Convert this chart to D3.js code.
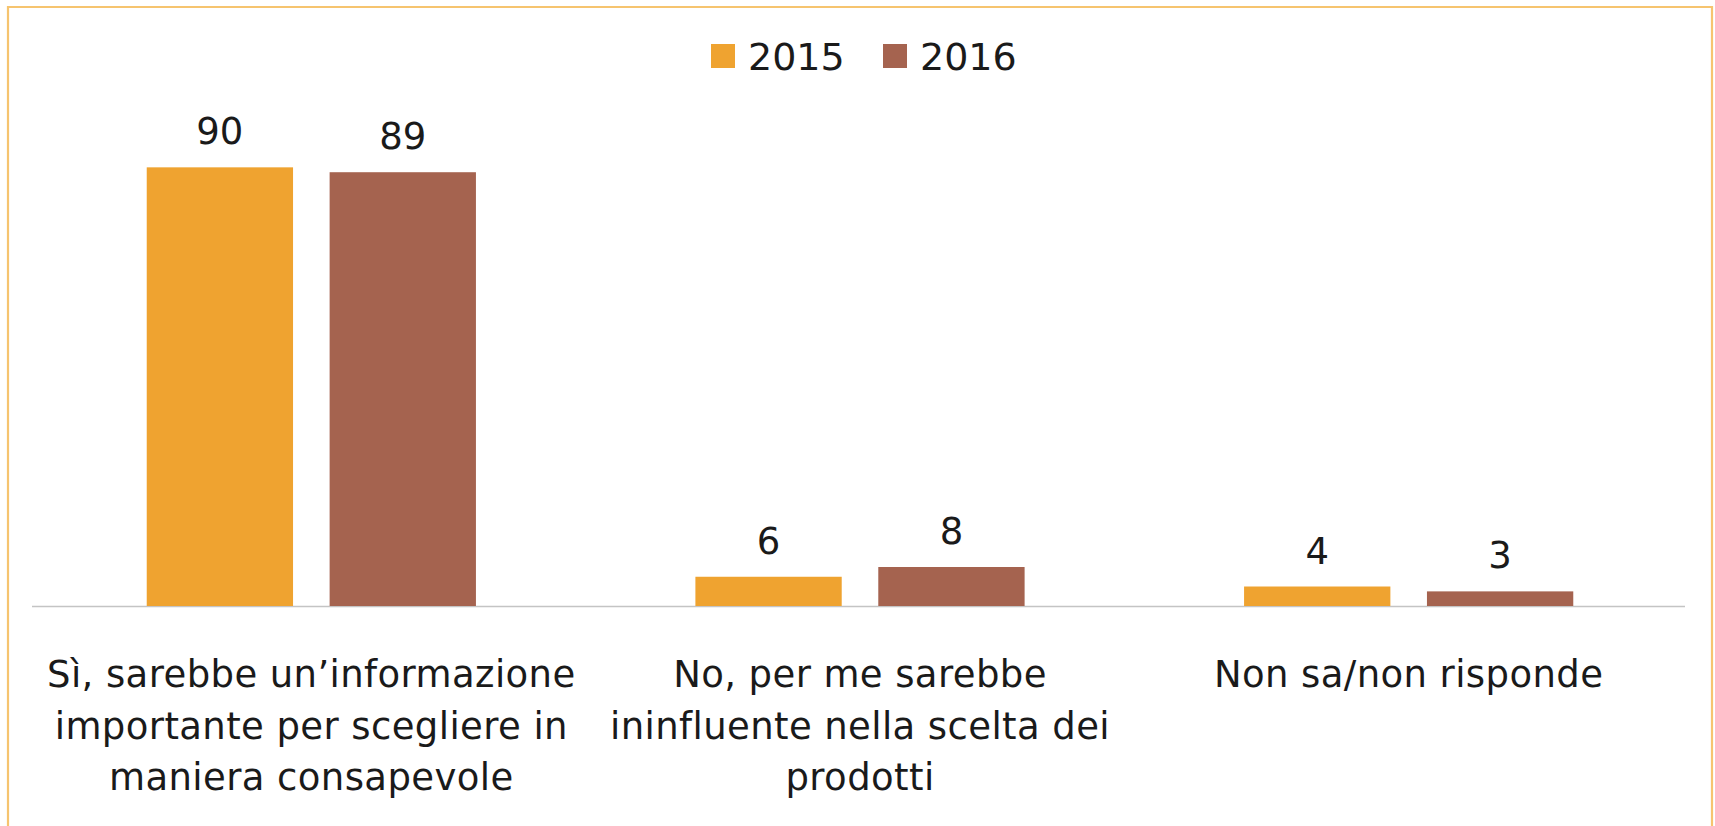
<!DOCTYPE html>
<html>
<head>
<meta charset="utf-8">
<script src="https://cdn.jsdelivr.net/npm/d3@7"></script>
<style>
  html, body { margin: 0; padding: 0; background: #ffffff; }
  svg { display: block; }
  text { font-family: "DejaVu Sans", sans-serif; fill: #1a1a1a; }
</style>
</head>
<body>
<svg id="chart" width="1715" height="826"></svg>
<script>
// ---- Data ----
const categories = [
  ["Sì, sarebbe un\u2019informazione", "importante per scegliere in", "maniera consapevole"],
  ["No, per me sarebbe", "ininfluente nella scelta dei", "prodotti"],
  ["Non sa/non risponde"]
];
const categoryKeys = ["si", "no", "nonsa"];
const seriesNames = ["2015", "2016"];
const values2015 = [90, 6, 4];
const values2016 = [89, 8, 3];
const seriesColors = ["#EFA330", "#A5634F"];

// ---- Layout ----
const W = 1715, H = 826;
const baseY = 606;
const svg = d3.select("#chart");

// frame border (bottom runs off the picture)
svg.append("path")
  .attr("d", `M8,${H + 5} L8,7 L1712,7 L1712,${H + 5}`)
  .attr("fill", "none")
  .attr("stroke", "#F6C46F")
  .attr("stroke-width", 2.2);

const x0 = d3.scaleBand().domain(categoryKeys).range([37, 1683])
  .paddingInner(0.4).paddingOuter(0.2);
const x1 = d3.scaleBand().domain(seriesNames).range([0, x0.bandwidth()]).paddingInner(0.2);
const y = d3.scaleLinear().domain([0, 100]).range([baseY, baseY - 487.4]);
const color = d3.scaleOrdinal().domain(seriesNames).range(seriesColors);

const rows = categoryKeys.map((k, i) => ({
  key: k,
  vals: [{s: "2015", v: values2015[i]}, {s: "2016", v: values2016[i]}]
}));

// baseline
svg.append("line")
  .attr("x1", 32).attr("x2", 1685)
  .attr("y1", baseY + 0.5).attr("y2", baseY + 0.5)
  .attr("stroke", "#c4c4c4").attr("stroke-width", 1.6);

const g = svg.append("g").selectAll("g").data(rows).join("g")
  .attr("transform", d => `translate(${x0(d.key)},0)`);

g.selectAll("rect").data(d => d.vals).join("rect")
  .attr("x", d => x1(d.s))
  .attr("y", d => y(d.v))
  .attr("width", x1.bandwidth())
  .attr("height", d => y(0) - y(d.v))
  .attr("fill", d => color(d.s));

g.selectAll("text.val").data(d => d.vals).join("text")
  .attr("class", "val")
  .attr("x", d => x1(d.s) + x1.bandwidth() / 2)
  .attr("y", d => y(d.v) - 23)
  .attr("text-anchor", "middle")
  .attr("font-size", 37)
  .text(d => d.v);

// category labels
const labels = svg.append("g").selectAll("text").data(categoryKeys).join("text")
  .attr("x", k => x0(k) + x0.bandwidth() / 2)
  .attr("y", 687)
  .attr("text-anchor", "middle")
  .attr("font-size", 37)
  .attr("letter-spacing", 0.4);
labels.each(function(k, i) {
  const t = d3.select(this);
  categories[i].forEach((line, j) => {
    t.append("tspan")
      .attr("x", x0(k) + x0.bandwidth() / 2)
      .attr("dy", j === 0 ? 0 : 51.5)
      .text(line);
  });
});

// legend
const legendX = [711, 883];
const leg = svg.append("g").selectAll("g").data(seriesNames).join("g")
  .attr("transform", (d, i) => `translate(${legendX[i]},44)`);
leg.append("rect").attr("width", 24).attr("height", 24).attr("fill", d => color(d));
leg.append("text").attr("x", 37).attr("y", 26).attr("font-size", 38).text(d => d);
</script>
</body>
</html>
